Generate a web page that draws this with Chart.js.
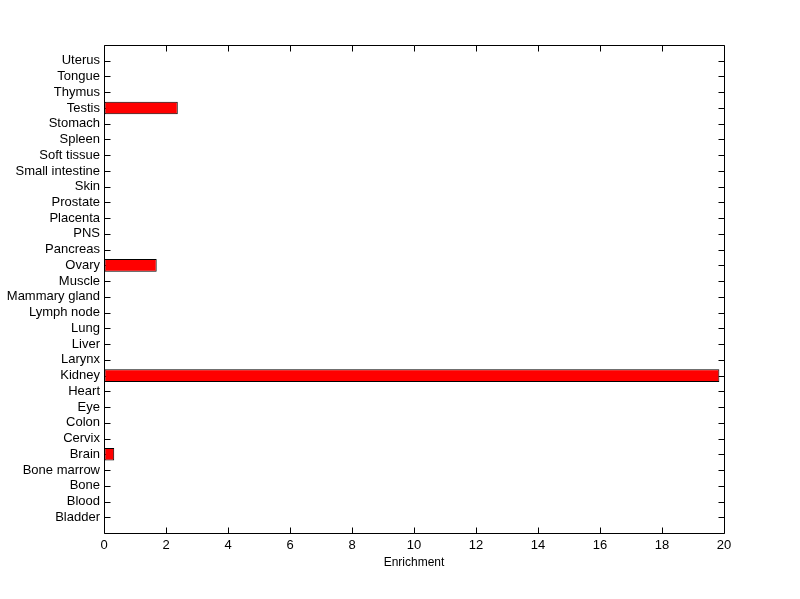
<!DOCTYPE html>
<html>
<head>
<meta charset="utf-8">
<script src="https://cdn.jsdelivr.net/npm/chart.js@4/dist/chart.umd.min.js"></script>
<style>
html,body{margin:0;padding:0;background:#fff;}
canvas{display:block;}
</style>
</head>
<body>
<canvas id="c" width="800" height="599"></canvas>
<script>
// categories from bottom (1) to top (30)
const categories = ["Bladder","Blood","Bone","Bone marrow","Brain","Cervix","Colon","Eye","Heart","Kidney",
  "Larynx","Liver","Lung","Lymph node","Mammary gland","Muscle","Ovary","Pancreas","PNS","Placenta",
  "Prostate","Skin","Small intestine","Soft tissue","Spleen","Stomach","Testis","Thymus","Tongue","Uterus"];
const enrichment = [0,0,0,0,0.33,0,0,0,0,19.85,
  0,0,0,0,0,0,1.70,0,0,0,
  0,0,0,0,0,0,2.38,0,0,0];
const xTicks = [0,2,4,6,8,10,12,14,16,18,20];

const FONT = {family: "Arial, 'Liberation Sans', sans-serif", size: 13};

const innerTicks = {
  id: 'innerTicks',
  beforeDatasetsDraw(chart) {
    const ctx = chart.ctx, a = chart.chartArea;
    const xs = chart.scales.x, ys = chart.scales.y;
    const L = Math.round(a.left) + 0.5, R = Math.round(a.right) + 0.5;
    const T = Math.round(a.top) + 0.5, B = Math.round(a.bottom) + 0.5;
    const len = 6;
    ctx.save();
    ctx.strokeStyle = '#000';
    ctx.lineWidth = 1;
    ctx.beginPath();
    ctx.rect(L, T, R - L, B - T);
    xs.ticks.forEach(t => {
      const px = Math.round(xs.getPixelForValue(t.value)) + 0.5;
      ctx.moveTo(px, B); ctx.lineTo(px, B - len);
      ctx.moveTo(px, T); ctx.lineTo(px, T + len);
    });
    ys.ticks.forEach(t => {
      const py = Math.round(ys.getPixelForValue(t.value)) + 0.5;
      ctx.moveTo(L, py); ctx.lineTo(L + len, py);
      ctx.moveTo(R, py); ctx.lineTo(R - len, py);
    });
    ctx.stroke();
    ctx.restore();
  }
};

new Chart(document.getElementById('c'), {
  type: 'bar',
  data: {
    datasets: [{
      data: enrichment.map((v, i) => ({x: v, y: i + 1})),
      backgroundColor: '#ff0000',
      borderColor: '#000000',
      borderWidth: 1,
      borderSkipped: false,
      barPercentage: 1,
      categoryPercentage: 0.8
    }]
  },
  options: {
    indexAxis: 'y',
    responsive: false,
    animation: false,
    layout: {padding: {top: 45, right: 76, left: 0, bottom: 29}},
    plugins: {legend: {display: false}, tooltip: {enabled: false}},
    scales: {
      x: {
        type: 'linear', min: 0, max: 20,
        afterBuildTicks: s => { s.ticks = xTicks.map(v => ({value: v})); },
        afterFit: s => { s.height = 37; },
        grid: {display: true, drawOnChartArea: false, drawTicks: false},
        border: {display: false},
        ticks: {color: '#000', font: FONT, padding: 5, maxRotation: 0, autoSkip: false},
        title: {display: true, text: 'Enrichment', color: '#000', font: {family: FONT.family, size: 12}, padding: {top: 2, bottom: 0}}
      },
      y: {
        type: 'linear', min: 0, max: 31, offset: false,
        afterBuildTicks: s => { s.ticks = categories.map((_, i) => ({value: i + 1})); },
        afterFit: s => { s.width = 104; },
        grid: {display: true, drawOnChartArea: false, drawTicks: false},
        border: {display: false},
        ticks: {color: '#000', font: FONT, padding: 4, autoSkip: false,
          callback: v => categories[v - 1]}
      }
    }
  },
  plugins: [innerTicks]
});
</script>
</body>
</html>
